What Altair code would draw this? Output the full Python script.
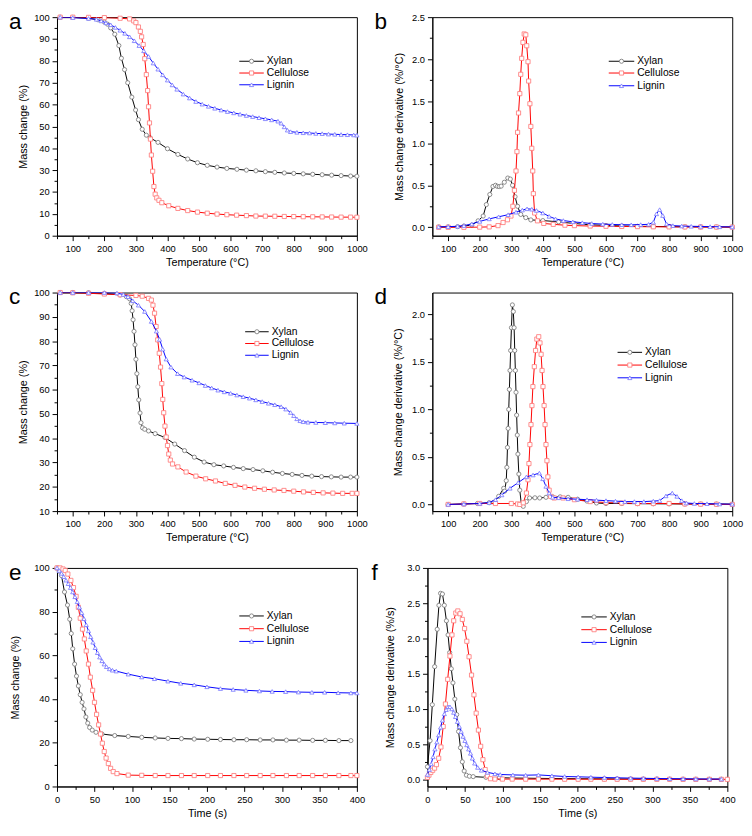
import altair as alt
import pandas as pd

FONT = "Liberation Sans"
SERIES = ["Xylan", "Cellulose", "Lignin"]
LINE_COLORS = ["#000000", "#ff0000", "#0000ff"]
MARK_COLORS = ["#808080", "#ff7f7f", "#7f7fff"]
SHAPES = ["circle", "square", "triangle-up"]

TEMP_TICKS = list(range(50, 1001, 50))
TIME_TICKS = list(range(0, 401, 25))
A_Y_TICKS = list(range(0, 101, 5))
C_Y_TICKS = list(range(10, 101, 5))
E_Y_TICKS = list(range(0, 101, 10))
B_Y_TICKS = [0.0, 0.25, 0.5, 0.75, 1.0, 1.25, 1.5, 1.75, 2.0, 2.25, 2.5]
D_Y_TICKS = [0.0, 0.25, 0.5, 0.75, 1.0, 1.25, 1.5, 1.75, 2.0]
F_Y_TICKS = [0.0, 0.25, 0.5, 0.75, 1.0, 1.25, 1.5, 1.75, 2.0, 2.25, 2.5, 2.75, 3.0]

# ---------------- panel a ----------------
A_XYLAN_T = [60, 100, 150, 180, 200, 210, 220, 233, 246, 254, 264, 274, 287, 299, 308, 320, 333, 345, 370, 400,
             433, 464, 495, 526, 557, 588, 620, 650, 680, 710, 740, 770, 800, 830, 860, 890, 920, 950, 980, 1000]
A_XYLAN_M = [100, 99.9, 99.5, 98.8, 97.8, 96.8, 95.1, 92.2, 87.0, 81.2, 76.0, 70.0, 63.4, 57.5, 53.1, 48.7, 46.0, 44.8, 42.7, 39.8,
             37.2, 35.1, 33.4, 32.2, 31.4, 30.8, 30.4, 30.0, 29.7, 29.3, 29.0, 28.7, 28.5, 28.3, 28.1, 27.9, 27.7, 27.5, 27.3, 27.2]
A_CELL_T = [60, 100, 150, 200, 250, 280, 293, 300, 308, 314, 318, 323, 328, 333, 337, 340, 343, 346, 349, 353,
            357, 361, 366, 373, 382, 404, 433, 464, 495, 526, 557, 588, 619, 650, 680, 710, 740, 770, 800, 830,
            860, 890, 920, 950, 980, 1000]
A_CELL_M = [100, 100, 99.9, 99.8, 99.5, 99.2, 98.3, 97.5, 95.5, 93.5, 91.0, 87.5, 81.0, 73.7, 66.4, 59.0, 51.6, 44.2, 36.9, 29.5,
            22.5, 19.0, 17.3, 16.2, 15.1, 13.7, 12.5, 11.5, 10.8, 10.3, 9.9, 9.6, 9.4, 9.2, 9.0, 8.95, 8.9, 8.8, 8.75, 8.7,
            8.65, 8.6, 8.55, 8.5, 8.5, 8.45]
A_LIG_T = [60, 100, 150, 175, 190, 205, 220, 235, 250, 265, 280, 295, 310, 325, 340, 355, 370, 385, 400, 415,
           430, 450, 470, 490, 510, 530, 550, 570, 590, 610, 630, 650, 670, 690, 710, 730, 750, 760, 770, 780,
           790, 810, 830, 850, 870, 890, 910, 930, 950, 970, 990, 1000]
A_LIG_M = [100, 99.8, 99.4, 99.0, 98.3, 97.4, 96.5, 95.3, 94.0, 92.6, 91.0, 89.2, 87.0, 84.6, 82.0, 79.0, 76.2, 73.6, 71.2, 69.0,
           67.0, 64.8, 63.0, 61.4, 60.2, 59.2, 58.3, 57.5, 56.8, 56.2, 55.6, 55.0, 54.5, 54.0, 53.5, 53.0, 52.4, 51.5, 49.8, 48.3,
           47.6, 47.3, 47.1, 47.0, 46.8, 46.7, 46.5, 46.4, 46.3, 46.2, 46.1, 46.0]

# ---------------- panel b ----------------
B_XYLAN_T = [70, 100, 130, 150, 175, 195, 211, 221, 232, 242, 250, 256, 262, 268, 278, 289, 297, 304, 312, 320,
             330, 346, 362, 400, 450, 500, 550, 600, 650, 700, 750, 800, 850, 900, 950, 1000]
B_XYLAN_Y = [0.005, 0.005, 0.008, 0.015, 0.027, 0.077, 0.134, 0.27, 0.39, 0.486, 0.5, 0.487, 0.485, 0.49, 0.536, 0.586, 0.574, 0.5, 0.364, 0.25,
             0.153, 0.115, 0.088, 0.08, 0.065, 0.045, 0.03, 0.022, 0.016, 0.012, 0.01, 0.008, 0.006, 0.005, 0.004, 0.003]
B_CELL_T = [70, 100, 150, 200, 230, 258, 274, 288, 299, 305, 310, 315, 318, 320, 323, 327, 330, 333, 337, 341,
            346, 349, 353, 355, 359, 362, 365, 368, 370, 374, 383, 403, 433, 470, 500, 550, 600, 650, 700, 750,
            800, 850, 900, 950, 1000]
B_CELL_Y = [0.0, 0.0, 0.0, 0.002, 0.005, 0.02, 0.057, 0.09, 0.134, 0.25, 0.44, 0.67, 0.9, 1.13, 1.36, 1.59, 1.82, 2.01, 2.2, 2.3,
            2.29, 2.16, 1.97, 1.74, 1.47, 1.2, 0.94, 0.67, 0.4, 0.17, 0.077, 0.046, 0.035, 0.025, 0.02, 0.015, 0.012, 0.01, 0.008, 0.006,
            0.005, 0.004, 0.003, 0.003, 0.002]
B_LIG_T = [70, 100, 130, 150, 175, 200, 230, 260, 290, 315, 335, 350, 365, 380, 400, 420, 440, 465, 495, 525,
           555, 590, 620, 650, 680, 710, 735, 750, 760, 770, 780, 792, 812, 840, 870, 900, 930, 960, 1000]
B_LIG_Y = [0.005, 0.008, 0.012, 0.02, 0.04, 0.07, 0.1, 0.125, 0.15, 0.18, 0.205, 0.22, 0.215, 0.2, 0.17, 0.13, 0.1, 0.08, 0.065, 0.055,
           0.045, 0.038, 0.034, 0.031, 0.03, 0.032, 0.035, 0.06, 0.16, 0.21, 0.14, 0.04, 0.02, 0.015, 0.012, 0.01, 0.008, 0.006, 0.005]

# ---------------- panel c ----------------
C_XYLAN_T = [60, 100, 150, 200, 250, 270, 280, 285, 288, 291, 294, 297, 300, 303, 306, 309, 313, 316, 321, 328,
             340, 361, 392, 423, 454, 485, 516, 547, 578, 609, 640, 671, 702, 733, 764, 795, 826, 857, 888, 919,
             950, 980, 1000]
C_XYLAN_M = [100, 100, 99.9, 99.6, 99.0, 98.3, 97.4, 95.5, 92.5, 88.8, 84.0, 78.5, 72.5, 66.6, 61.2, 55.8, 50.4, 46.4, 44.3, 43.7,
             43.0, 41.9, 40.3, 37.6, 34.9, 32.2, 30.2, 29.1, 28.6, 28.0, 27.5, 27.1, 26.6, 26.0, 25.5, 25.1, 24.7, 24.4, 24.2, 24.1,
             24.0, 24.0, 24.0]
C_CELL_T = [60, 100, 150, 200, 250, 300, 320, 340, 349, 354, 359, 364, 369, 374, 378, 382, 385, 388, 392, 396,
            400, 404, 409, 416, 433, 459, 490, 521, 552, 583, 614, 645, 676, 707, 738, 769, 800, 831, 862, 893,
            924, 955, 985, 1000]
C_CELL_M = [100, 99.9, 99.7, 99.4, 99.1, 98.8, 98.5, 97.6, 96.9, 94.8, 91.5, 86.0, 80.5, 75.0, 69.3, 62.5, 56.0, 50.5, 45.0, 40.5,
            37.0, 33.5, 31.0, 29.4, 28.2, 26.1, 24.4, 23.3, 22.4, 21.4, 20.6, 19.9, 19.4, 19.0, 18.7, 18.5, 18.2, 17.9, 17.7, 17.5,
            17.4, 17.3, 17.3, 17.3]
C_LIG_T = [60, 100, 150, 200, 240, 260, 275, 290, 308, 328, 349, 365, 375, 385, 396, 411, 432, 453, 478, 500,
           520, 540, 560, 580, 600, 620, 640, 660, 680, 700, 720, 740, 760, 775, 790, 800, 810, 820, 830, 845,
           870, 900, 930, 960, 1000]
C_LIG_M = [100, 100, 100, 100, 99.8, 99.2, 98.3, 96.6, 94.8, 92.2, 88.1, 84.1, 80.7, 76.7, 72.6, 69.3, 66.6, 65.2, 63.9, 62.8,
           61.7, 60.7, 59.8, 59.1, 58.5, 57.8, 57.1, 56.5, 55.8, 55.1, 54.4, 53.8, 53.0, 52.0, 50.6, 49.3, 48.0, 47.2, 46.8, 46.6,
           46.5, 46.4, 46.3, 46.2, 46.1]

# ---------------- panel d ----------------
D_XYLAN_T = [100, 150, 193, 230, 245, 260, 276, 279, 284, 286, 288, 290, 292, 294, 296, 298, 300.5, 303.5, 306.5, 309,
             311, 313, 315, 317, 319, 321, 324, 327, 332, 338, 348, 358, 375, 390, 410, 431, 455, 480, 510, 540,
             570, 600, 650, 700, 750, 800, 850, 900, 950, 1000]
D_XYLAN_Y = [0.0, 0.005, 0.01, 0.018, 0.024, 0.085, 0.17, 0.14, 0.25, 0.39, 0.6, 0.8, 1.0, 1.21, 1.41, 1.62, 1.86, 2.1, 2.03, 1.86,
             1.62, 1.41, 1.18, 0.94, 0.73, 0.53, 0.32, 0.15, 0.0, -0.02, 0.03, 0.068, 0.07, 0.068, 0.075, 0.08, 0.08, 0.075, 0.055, 0.035,
             0.015, 0.01, 0.01, 0.008, 0.007, 0.006, 0.005, 0.004, 0.004, 0.003]
D_CELL_T = [100, 150, 200, 250, 300, 320, 327, 338, 348, 353, 356, 359, 362.5, 365.5, 368.5, 373, 377, 381, 387, 391,
            394.5, 397.5, 400.5, 404, 407, 410, 413, 416, 420, 425, 436, 464, 500, 550, 600, 650, 700, 750, 800, 850,
            900, 950, 1000]
D_CELL_Y = [0.0, 0.005, 0.01, 0.01, 0.01, 0.005, 0.0, 0.017, 0.12, 0.26, 0.43, 0.63, 0.84, 1.04, 1.24, 1.45, 1.62, 1.74, 1.765, 1.7,
            1.58, 1.41, 1.24, 1.04, 0.84, 0.63, 0.46, 0.29, 0.15, 0.085, 0.068, 0.068, 0.05, 0.03, 0.02, 0.015, 0.01, 0.01, 0.01, 0.005,
            0.003, 0.002, 0.0]
D_LIG_T = [100, 150, 200, 230, 250, 270, 296, 322, 348, 369, 389, 400, 410, 420, 431, 450, 480, 510, 540, 570,
           600, 630, 660, 690, 720, 750, 770, 790, 810, 825, 840, 855, 880, 920, 960, 1000]
D_LIG_Y = [0.0, 0.005, 0.01, 0.02, 0.05, 0.1, 0.17, 0.23, 0.29, 0.31, 0.33, 0.27, 0.19, 0.12, 0.075, 0.07, 0.06, 0.055, 0.05, 0.045,
           0.04, 0.035, 0.03, 0.03, 0.03, 0.035, 0.04, 0.09, 0.12, 0.085, 0.04, 0.015, 0.01, 0.008, 0.005, 0.003]

# ---------------- panel e ----------------
E_XYLAN_T = [0, 3, 6, 10, 14, 17, 19, 21, 23.5, 26, 28.5, 31, 33.5, 36, 38.5, 41, 43.5, 47, 52, 60,
             77, 95, 113, 131, 148, 166, 183, 201, 218, 236, 253, 271, 288, 306, 323, 341, 358, 376, 392]
E_XYLAN_M = [100, 98.5, 96.5, 89, 83, 76.5, 70, 63, 56, 50.5, 46, 42, 38.5, 35.5, 31.8, 29, 27, 25.8, 24.8, 24.0,
             23.3, 22.9, 22.5, 22.2, 22.0, 21.9, 21.7, 21.6, 21.5, 21.4, 21.4, 21.3, 21.3, 21.2, 21.2, 21.1, 21.1, 21.0, 21.0]
E_CELL_T = [0, 4, 8, 11, 14.5, 18.5, 22, 25.5, 28.5, 31, 34, 36.5, 39, 42, 44.5, 47.5, 50, 52.8, 55.5, 58,
            60.5, 63, 65.5, 68.5, 71.5, 75, 80, 95, 113, 131, 148, 166, 183, 201, 218, 236, 253, 271, 288, 306,
            323, 341, 358, 376, 392, 400]
E_CELL_M = [100, 100, 99.5, 98.8, 97.2, 94.3, 91, 87, 82, 77, 72, 67.5, 62, 56, 50, 44, 38.5, 33, 28.2, 24,
            19.8, 16, 13, 10.5, 8.3, 6.8, 5.9, 5.2, 5.1, 5.0, 5.0, 5.0, 5.0, 5.0, 5.0, 5.0, 5.0, 5.0, 5.0, 5.0,
            5.0, 5.0, 5.0, 5.0, 5.0, 5.0]
E_LIG_T = [0, 3, 6, 9, 12, 15, 18, 21, 24, 27, 30, 33, 36, 39, 42, 45, 48, 51, 54, 57,
           60, 63, 66, 70, 74, 79, 95, 113, 130, 148, 165, 183, 200, 218, 235, 252, 270, 287, 305, 322,
           340, 357, 375, 392, 400]
E_LIG_M = [100, 98.8, 97.5, 96, 94.4, 92.8, 91, 89, 86.8, 84.5, 82, 79.5, 76.8, 74, 71.2, 68.5, 66, 63.5, 61.2, 59.2,
           57.5, 56, 54.8, 53.8, 53.2, 52.8, 51.4, 50.1, 49.3, 48.2, 47.2, 46.5, 45.6, 44.8, 44.4, 44, 43.7, 43.5, 43.4, 43.2,
           43.1, 43.1, 42.9, 42.8, 42.8]

# ---------------- panel f ----------------
F_XYLAN_T = [0, 3.5, 6.5, 9.6, 13, 15.3, 17.5, 20, 22.5, 25.3, 27.5, 29.7, 31.8, 34, 36.5, 39, 41.5, 44, 46.5, 49,
             52, 56, 61, 78, 96, 113, 131, 148, 166, 183, 201, 218, 236, 253, 271, 288, 306, 323, 341, 358,
             376, 392]
F_XYLAN_Y = [0.18, 0.55, 1.06, 1.6, 2.13, 2.47, 2.64, 2.63, 2.47, 2.25, 2.05, 1.8, 1.57, 1.37, 1.14, 0.92, 0.68, 0.45, 0.25, 0.12,
             0.06, 0.045, 0.04, 0.03, 0.025, 0.02, 0.018, 0.015, 0.013, 0.012, 0.01, 0.009, 0.008, 0.007, 0.006, 0.005, 0.005, 0.004, 0.004, 0.003,
             0.003, 0.003]
F_CELL_T = [0, 2, 4.5, 7, 9.5, 12, 15, 18, 21, 24, 27, 30, 32.7, 35, 37.8, 40.5, 43.5, 46.5, 49.5, 52.5,
            55.5, 58.8, 62, 65, 68, 71, 74, 77, 80, 84, 90, 100, 113, 131, 148, 166, 183, 201, 218, 236,
            253, 271, 288, 306, 323, 341, 358, 376, 392, 400]
F_CELL_Y = [0.03, 0.06, 0.1, 0.13, 0.16, 0.21, 0.3, 0.46, 0.75, 1.07, 1.42, 1.75, 2.05, 2.25, 2.36, 2.39, 2.35, 2.27, 2.14, 1.96,
            1.74, 1.48, 1.2, 0.94, 0.7, 0.47, 0.28, 0.14, 0.05, 0.01, 0.005, 0.005, 0.005, 0.004, 0.004, 0.004, 0.003, 0.003, 0.003, 0.003,
            0.002, 0.002, 0.002, 0.002, 0.002, 0.001, 0.001, 0.001, 0.001, 0.001]
F_LIG_T = [0, 2.5, 5, 7.5, 10, 12.5, 15, 17.5, 20, 22.5, 25, 27.5, 30, 32.5, 35, 37.5, 40, 42.5, 45, 47.5,
           50, 52.5, 55, 57.5, 60, 63, 67, 72, 80, 90, 97, 114, 131, 148, 166, 183, 201, 218, 236, 253,
           271, 288, 306, 323, 341, 358, 376, 392]
F_LIG_Y = [0.07, 0.14, 0.22, 0.32, 0.43, 0.53, 0.63, 0.74, 0.84, 0.93, 0.99, 1.03, 1.03, 1.0, 0.95, 0.89, 0.82, 0.75, 0.68, 0.61,
           0.55, 0.49, 0.43, 0.37, 0.3, 0.23, 0.17, 0.13, 0.1, 0.08, 0.07, 0.064, 0.06, 0.064, 0.052, 0.042, 0.037, 0.032, 0.027, 0.023,
           0.019, 0.016, 0.013, 0.011, 0.009, 0.007, 0.006, 0.005]

W, H = 306, 223


def major_test(step):
    return f"abs(datum.value / {step} - round(datum.value / {step})) < 0.001"


def make_axis(title, values, step, fmt, title_pad):
    t = major_test(step)
    return alt.Axis(title=title, values=values, format=fmt,
                    labelExpr=f"({t}) ? datum.label : ''",
                    tickSize={"condition": {"test": t, "value": 5}, "value": 3},
                    labelOverlap=False, labelFlush=False, labelPadding=3,
                    titlePadding=title_pad)


def panel(letter, xs, ys, xdom, xticks, xstep, xtitle, ydom, yticks, ystep, yfmt, ytitle, ypad,
          leg_x, leg_y, letter_x):
    frames = [pd.DataFrame({"x": xs[i], "y": ys[i], "s": SERIES[i]}) for i in range(3)]
    df = pd.concat(frames, ignore_index=True)
    xenc = alt.X("x:Q", scale=alt.Scale(domain=xdom, nice=False, zero=False),
                 axis=make_axis(xtitle, xticks, xstep, "d", 4))
    yenc = alt.Y("y:Q", scale=alt.Scale(domain=ydom, nice=False, zero=False),
                 axis=make_axis(ytitle, yticks, ystep, yfmt, ypad))
    base = alt.Chart(df).encode(x=xenc, y=yenc)
    layers = []
    for i, name in enumerate(SERIES):
        sub = base.transform_filter(alt.datum.s == name)
        layers.append(sub.mark_line(color=LINE_COLORS[i], strokeWidth=1, clip=True))
        layers.append(sub.mark_point(shape=SHAPES[i], size=18, filled=True, fill="white",
                                     stroke=MARK_COLORS[i], strokeWidth=0.9, opacity=1))
    one = pd.DataFrame({"k": [0]})
    x1, x2 = leg_x
    for i, name in enumerate(SERIES):
        yy = leg_y[i]
        layers.append(alt.Chart(one).mark_rule(color=LINE_COLORS[i], strokeWidth=1).encode(
            x=alt.value(x1), x2=alt.value(x2), y=alt.value(yy)))
        layers.append(alt.Chart(one).mark_point(shape=SHAPES[i], size=18, filled=True, fill="white",
                                                stroke=MARK_COLORS[i], strokeWidth=0.9, opacity=1).encode(
            x=alt.value((x1 + x2) / 2), y=alt.value(yy)))
        layers.append(alt.Chart(one).mark_text(text=name, align="left", baseline="middle", font=FONT,
                                               fontSize=10.5, color="black").encode(
            x=alt.value(x2 + 3), y=alt.value(yy)))
    layers.append(alt.Chart(one).mark_text(text=letter, align="left", baseline="alphabetic", font=FONT,
                                           fontSize=23, color="black").encode(
        x=alt.value(letter_x), y=alt.value(12)))
    return alt.layer(*layers).properties(width=W, height=H)


TEMP = "Temperature (°C)"
TIME = "Time (s)"
MASS = "Mass change (%)"

pa = panel("a", [A_XYLAN_T, A_CELL_T, A_LIG_T], [A_XYLAN_M, A_CELL_M, A_LIG_M],
           [50, 1000], TEMP_TICKS, 100, TEMP, [0, 100], A_Y_TICKS, 10, "d", MASS, 5,
           (186, 211), (45, 57, 69), -49)
pb = panel("b", [B_XYLAN_T, B_CELL_T, B_LIG_T], [B_XYLAN_Y, B_CELL_Y, B_LIG_Y],
           [50, 1000], TEMP_TICKS, 100, TEMP, [-0.1, 2.5], B_Y_TICKS, 0.5, ".1f",
           "Mass change derivative (%/°C)", 7, (180, 206), (45, 57, 70), -59)
pc = panel("c", [C_XYLAN_T, C_CELL_T, C_LIG_T], [C_XYLAN_M, C_CELL_M, C_LIG_M],
           [50, 1000], TEMP_TICKS, 100, TEMP, [10, 100], C_Y_TICKS, 10, "d", MASS, 5,
           (192, 216), (40, 52, 64), -49)
pd_ = panel("d", [D_XYLAN_T, D_CELL_T, D_LIG_T], [D_XYLAN_Y, D_CELL_Y, D_LIG_Y],
            [50, 1000], TEMP_TICKS, 100, TEMP, [-0.07, 2.23], D_Y_TICKS, 0.5, ".1f",
            "Mass change derivative (%/°C)", 8, (189, 214), (61, 74, 87), -59)
pe = panel("e", [E_XYLAN_T, E_CELL_T, E_LIG_T], [E_XYLAN_M, E_CELL_M, E_LIG_M],
           [0, 400], TIME_TICKS, 50, TIME, [0, 100], E_Y_TICKS, 20, "d", MASS, 13,
           (186, 211), (49, 62, 75), -49)
pf = panel("f", [F_XYLAN_T, F_CELL_T, F_LIG_T], [F_XYLAN_Y, F_CELL_Y, F_LIG_Y],
           [0, 400], TIME_TICKS, 50, TIME, [-0.1, 3.0], F_Y_TICKS, 0.5, ".1f",
           "Mass change derivative (%/s)", 11, (157, 183), (50, 63, 76), -57)

chart = alt.vconcat(
    alt.hconcat(pa, pb, spacing=5),
    alt.hconcat(pc, pd_, spacing=5),
    alt.hconcat(pe, pf, spacing=5),
    spacing=18, padding={"top": -6, "left": 0, "right": 0, "bottom": 0}, background="white",
).configure_view(
    stroke="black", strokeWidth=1
).configure_axis(
    domainColor="black", domainWidth=1, tickColor="black", tickWidth=1, grid=False,
    labelFont=FONT, labelFontSize=9.5, labelColor="black",
    titleFont=FONT, titleFontSize=11, titleFontWeight="normal", titleColor="black",
)

chart.save("out.html", embed_options={"renderer": "svg", "actions": False})
